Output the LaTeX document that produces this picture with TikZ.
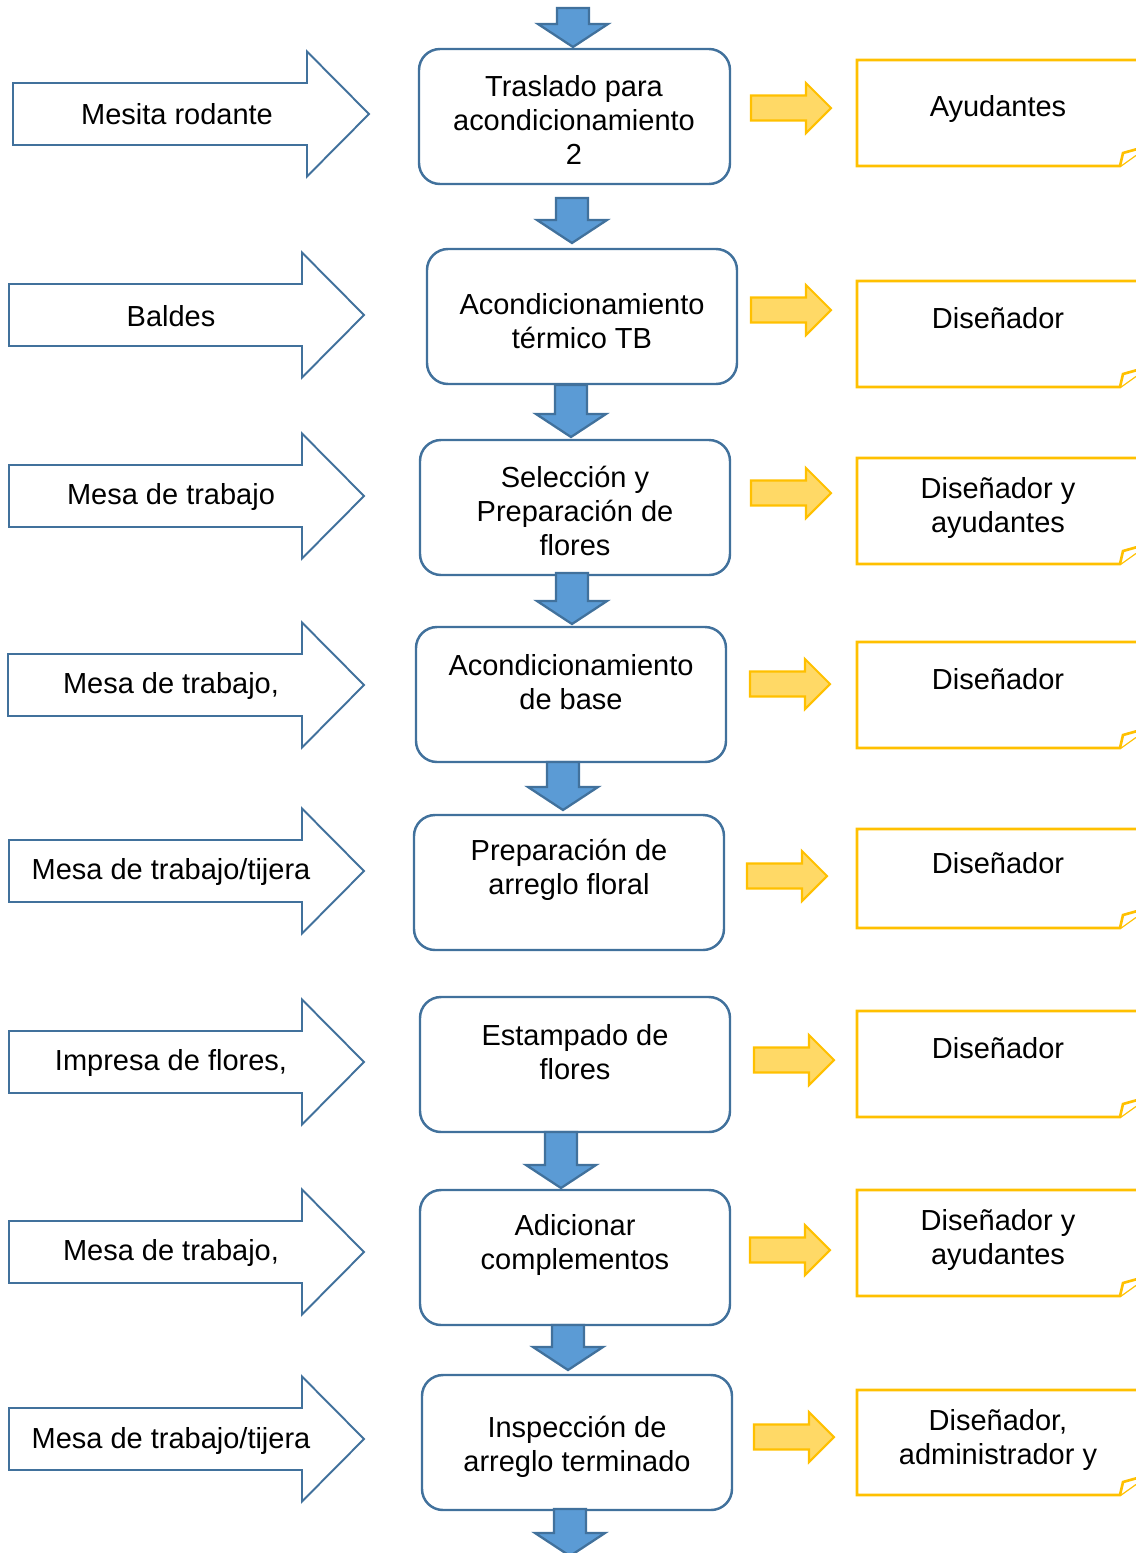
\documentclass[tikz,border=0pt]{standalone}
\usepackage{fontspec}
\setmainfont{Liberation Sans}
\definecolor{boxblue}{HTML}{41719C}
\definecolor{flowblue}{HTML}{5B9BD5}
\definecolor{gold}{HTML}{FFC000}
\definecolor{lightgold}{HTML}{FFD966}

% down block arrow: centre x, top of shaft, tip
\newcommand{\flowdown}[3]{%
  \draw[flowarrow] (#1-16,#2) -- (#1+16,#2) -- (#1+16,#3-23) -- (#1+35,#3-23)
    -- (#1,#3) -- (#1-35,#3-23) -- (#1-16,#3-23) -- cycle;}
% outlined input arrow: left x, head base x, tip x, centre y
\newcommand{\inputarrow}[4]{%
  \draw[inarrow] (#1,#4-31) -- (#2,#4-31) -- (#2,#4-62.5) -- (#3,#4)
    -- (#2,#4+62.5) -- (#2,#4+31) -- (#1,#4+31) -- cycle;}
% small yellow arrow: left x, centre y
\newcommand{\outputarrow}[2]{%
  \draw[outarrow] (#1,#2-12.5) -- (#1+55,#2-12.5) -- (#1+55,#2-25) -- (#1+80,#2)
    -- (#1+55,#2+25) -- (#1+55,#2+12.5) -- (#1,#2+12.5) -- cycle;}
% note box with folded corner: top y, bottom y
\newcommand{\notebox}[2]{%
  \draw[resbox] (857,#1) -- (1148,#1) -- (1148,#2-20) -- (1120,#2) -- (857,#2) -- cycle;
  \draw[resbox] (1120,#2) -- (1123,#2-13) -- (1148,#2-20);}

\begin{document}
\begin{tikzpicture}[x=0.02cm,y=-0.02cm,
  lbl/.style={font=\fontsize{16.5}{19.3}\selectfont, align=center, inner sep=0pt,
    text=black, yshift=-0.055cm},
  procbox/.style={draw=boxblue, line width=1.4pt, rounded corners=0.42cm, fill=white},
  flowarrow/.style={draw=boxblue, fill=flowblue, line width=1.3pt, line join=miter},
  inarrow/.style={draw=boxblue, fill=white, line width=1.1pt, line join=miter},
  outarrow/.style={draw=gold, fill=lightgold, line width=1.2pt, line join=miter},
  resbox/.style={draw=gold, fill=white, line width=1.5pt, line join=miter},
]
\useasboundingbox (0,0) rectangle (1136,1553);
\clip (0,0) rectangle (1136,1553);

% ---- process boxes ----
\draw[procbox] (419,49) rectangle (730,184);
\node[lbl] (p1) at (574,117) {Traslado para\\acondicionamiento\\2};
\draw[procbox] (427,249) rectangle (737,384);
\node[lbl] (p2) at (582,318) {Acondicionamiento\\térmico TB};
\draw[procbox] (420,440) rectangle (730,575);
\node[lbl] (p3) at (575,508) {Selección y\\Preparación de\\flores};
\draw[procbox] (416,627) rectangle (726,762);
\node[lbl] (p4) at (571,679) {Acondicionamiento\\de base};
\draw[procbox] (414,815) rectangle (724,950);
\node[lbl] (p5) at (569,867) {Preparación de\\arreglo floral};
\draw[procbox] (420,997) rectangle (730,1132);
\node[lbl] (p6) at (575,1049) {Estampado de\\flores};
\draw[procbox] (420,1190) rectangle (730,1325);
\node[lbl] (p7) at (575,1242) {Adicionar\\complementos};
\draw[procbox] (422,1375) rectangle (732,1510);
\node[lbl] (p8) at (577,1444) {Inspección de\\arreglo terminado};

% ---- flow arrows ----
\flowdown{573}{8}{47}
\flowdown{572}{198}{243}
\flowdown{571}{385}{437}
\flowdown{572}{573}{624}
\flowdown{563}{762}{810}
\flowdown{561}{1132}{1188}
\flowdown{568}{1325}{1370}
\flowdown{570}{1509}{1556}

% ---- inputs ----
\inputarrow{13}{307}{369}{114}
\node[lbl] (i1) at (177,111) {Mesita rodante};
\inputarrow{9}{302}{364}{315}
\node[lbl] (i2) at (171,313) {Baldes};
\inputarrow{9}{302}{364}{496}
\node[lbl] (i3) at (171,494) {Mesa de trabajo};
\inputarrow{8}{302}{364}{685}
\node[lbl] (i4) at (171,683) {Mesa de trabajo,};
\inputarrow{9}{302}{364}{871}
\node[lbl] (i5) at (171,869) {Mesa de trabajo/tijera};
\inputarrow{9}{302}{364}{1062}
\node[lbl] (i6) at (171,1060) {Impresa de flores,};
\inputarrow{9}{302}{364}{1252}
\node[lbl] (i7) at (171,1250) {Mesa de trabajo,};
\inputarrow{9}{302}{364}{1439}
\node[lbl] (i8) at (171,1438) {Mesa de trabajo/tijera};

% ---- outputs ----
\outputarrow{751}{108}
\outputarrow{751}{310}
\outputarrow{751}{493}
\outputarrow{750}{684}
\outputarrow{747}{876}
\outputarrow{754}{1060}
\outputarrow{750}{1250}
\outputarrow{754}{1437}

\notebox{60}{166}
\node[lbl] (r1) at (998,106) {Ayudantes};
\notebox{281}{387}
\node[lbl] (r2) at (998,315) {Diseñador};
\notebox{458}{564}
\node[lbl] (r3) at (998,505) {Diseñador y\\ayudantes};
\notebox{642}{748}
\node[lbl] (r4) at (998,676) {Diseñador};
\notebox{829}{928}
\node[lbl] (r5) at (998,860) {Diseñador};
\notebox{1011}{1117}
\node[lbl] (r6) at (998,1045) {Diseñador};
\notebox{1190}{1296}
\node[lbl] (r7) at (998,1237) {Diseñador y\\ayudantes};
\notebox{1390}{1495}
\node[lbl] (r8) at (998,1437) {Diseñador,\\administrador y};
\end{tikzpicture}
\end{document}
